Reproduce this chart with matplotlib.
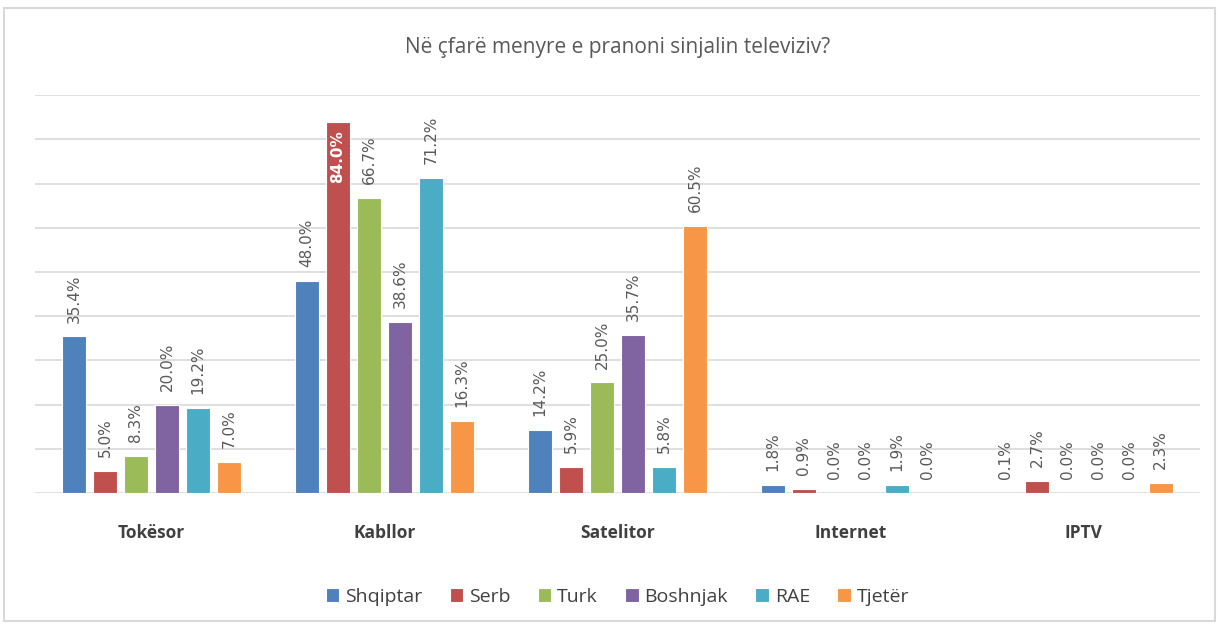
# -*- coding: utf-8 -*-
import numpy as np
import matplotlib
matplotlib.use('Agg')
import matplotlib.pyplot as plt
from matplotlib.patches import Rectangle

categories = ['Tokësor', 'Kabllor', 'Satelitor', 'Internet', 'IPTV']
series = ['Shqiptar', 'Serb', 'Turk', 'Boshnjak', 'RAE', 'Tjetër']
shqiptar = [35.4, 48.0, 14.2, 1.8, 0.1]
serb = [5.0, 84.0, 5.9, 0.9, 2.7]
turk = [8.3, 66.7, 25.0, 0.0, 0.0]
boshnjak = [20.0, 38.6, 35.7, 0.0, 0.0]
rae = [19.2, 71.2, 5.8, 1.9, 0.0]
tjeter = [7.0, 16.3, 60.5, 0.0, 2.3]

colors = ['#4F81BD', '#C0504D', '#9BBB59', '#8064A2', '#4BACC6', '#F79646']
values = [shqiptar, serb, turk, boshnjak, rae, tjeter]

plt.rcParams['font.family'] = ['Open Sans', 'DejaVu Sans']

fig = plt.figure(figsize=(12.19, 6.26), dpi=100)
ax = fig.add_axes([0.0287, 0.2125, 0.9556, 0.6355])

x = np.arange(len(categories))
step = 0.133
width = 0.103
for i, (name, vals) in enumerate(zip(series, values)):
    pos = x + (i - 2.5) * step
    ax.bar(pos, vals, width, color=colors[i], edgecolor='white', lw=0.8, label=name, zorder=3)
    for xp, v in zip(pos, vals):
        txt = '%.1f%%' % v
        if v > 80:
            ax.annotate(txt, (xp, v), xytext=(0, -6), textcoords='offset points',
                        rotation=90, ha='center', va='top', color='white',
                        fontsize=11, fontweight='bold', family='DejaVu Sans')
        else:
            ax.annotate(txt, (xp, v), xytext=(0, 10), textcoords='offset points',
                        rotation=90, ha='center', va='bottom', color='#595959',
                        fontsize=11, family='DejaVu Sans')

ax.set_xlim(-0.5, 4.5)
ax.set_ylim(0, 90)
ax.set_yticks(np.arange(0, 91, 10))
ax.set_yticklabels([])
ax.tick_params(axis='y', length=0)
ax.tick_params(axis='x', length=0, pad=22)
ax.set_xticks(x)
ax.set_xticklabels(categories, fontsize=12.5, fontweight='bold', color='#404040')
ax.grid(axis='y', color='#D9D9D9', lw=1.2, zorder=0)
for s in ax.spines.values():
    s.set_visible(False)

ax.set_title('Në çfarë menyre e pranoni sinjalin televiziv?', fontsize=15,
             color='#595959', pad=30)

leg = ax.legend(loc='upper center', bbox_to_anchor=(0.5, -0.195), ncol=6,
                frameon=False, fontsize=14, handlelength=0.7, handleheight=0.7,
                handletextpad=0.3, columnspacing=1.4)
for t in leg.get_texts():
    t.set_color('#404040')

fig.patches.append(Rectangle((0.003, 0.008), 0.994, 0.98, transform=fig.transFigure,
                             fill=False, edgecolor='#D9D9D9', lw=1.5))

fig.savefig('out.png', dpi=100)
